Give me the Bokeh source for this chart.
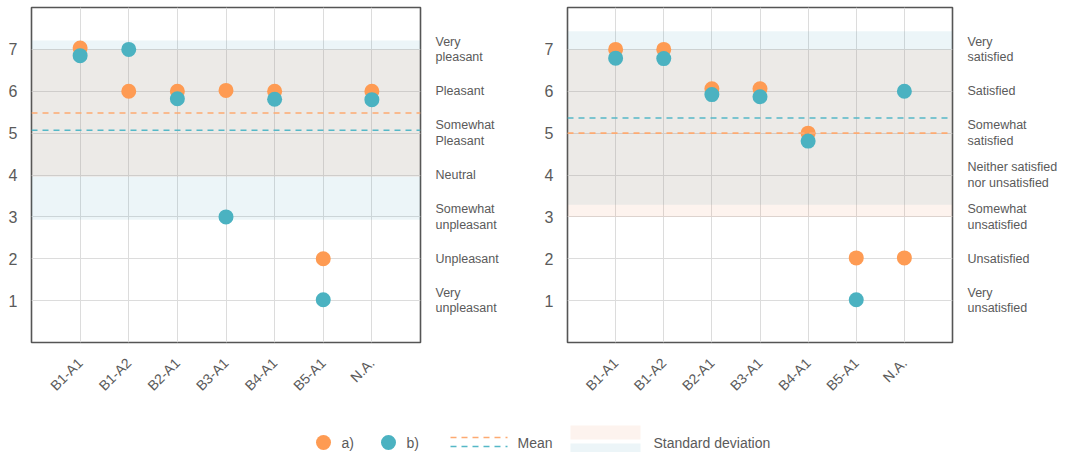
from bokeh.plotting import figure
from bokeh.models import Range1d, FixedTicker, LinearAxis, BoxAnnotation, Span
from bokeh.layouts import column, row
from bokeh.embed import file_html
from bokeh.resources import INLINE
from bokeh.core.properties import value

# ---- data -------------------------------------------------------------
categories = ["B1-A1", "B1-A2", "B2-A1", "B3-A1", "B4-A1", "B5-A1", "N.A."]

pleasant_a = [7.03, 6.0, 6.0, 6.02, 6.0, 2.0, 6.0]
pleasant_b = [6.85, 7.0, 5.82, 3.0, 5.81, 1.02, 5.8]
pleasant_mean_a, pleasant_sd_a = 5.48, 1.52
pleasant_mean_b, pleasant_sd_b = 5.07, 2.14
pleasant_levels = ["Very\nunpleasant", "Unpleasant", "Somewhat\nunpleasant", "Neutral",
                   "Somewhat\nPleasant", "Pleasant", "Very\npleasant"]

satisfied_a = [7.0, 7.0, 6.06, 6.06, 5.0, 2.02, 2.02]
satisfied_b = [6.79, 6.78, 5.92, 5.87, 4.81, 1.02, 6.0]
satisfied_mean_a, satisfied_sd_a = 5.0, 2.0
satisfied_mean_b, satisfied_sd_b = 5.36, 2.07
satisfied_levels = ["Very\nunsatisfied", "Unsatisfied", "Somewhat\nunsatisfied",
                    "Neither satisfied\nnor unsatisfied", "Somewhat\nsatisfied", "Satisfied",
                    "Very\nsatisfied"]

legend_labels = ["a)", "b)", "Mean", "Standard deviation"]

# ---- style ------------------------------------------------------------
FONT = "Liberation Sans"
ORANGE = "#fe9b53"
TEAL = "#4bb2c1"
ORANGE_MEAN = "#fdaa72"
TEAL_MEAN = "#55b8c7"
BAND_ORANGE = "#eb8755"
BAND_TEAL = "#419bb9"
BAND_ALPHA = 0.1
TEXT = "#5a5a5a"
GRID = "#dcdcdc"


def bare(axis):
    axis.axis_line_color = None
    axis.major_tick_line_color = None
    axis.minor_tick_line_color = None
    axis.major_tick_out = 0
    axis.major_tick_in = 0
    axis.minor_tick_out = 0
    axis.minor_tick_in = 0
    axis.major_label_text_font = FONT
    axis.major_label_text_color = TEXT


def panel(vals_a, vals_b, mean_a, sd_a, mean_b, sd_b, levels,
          border_left, frame_w, border_right):
    xs = list(range(1, len(categories) + 1))
    ys = list(range(1, len(levels) + 1))
    p = figure(frame_width=frame_w, frame_height=335,
               x_range=Range1d(0, len(categories) + 1),
               y_range=Range1d(0, len(levels) + 1),
               output_backend="svg", toolbar_location=None,
               min_border_left=border_left, min_border_right=border_right,
               min_border_top=7, min_border_bottom=68)
    p.outline_line_color = "#555555"
    p.outline_line_width = 1.6
    p.background_fill_color = "white"

    # standard deviation bands
    p.add_layout(BoxAnnotation(bottom=mean_b - sd_b, top=mean_b + sd_b,
                               fill_color=BAND_TEAL, fill_alpha=BAND_ALPHA,
                               line_color=None, level="underlay"))
    p.add_layout(BoxAnnotation(bottom=mean_a - sd_a, top=mean_a + sd_a,
                               fill_color=BAND_ORANGE, fill_alpha=BAND_ALPHA,
                               line_color=None, level="underlay"))

    # grid
    p.xgrid.ticker = FixedTicker(ticks=xs)
    p.ygrid.ticker = FixedTicker(ticks=ys)
    p.grid.grid_line_color = GRID
    p.grid.grid_line_width = 1

    # means
    p.add_layout(Span(location=mean_a, dimension="width", line_color=ORANGE_MEAN,
                      line_width=1.6, line_dash="6 5"))
    p.add_layout(Span(location=mean_b, dimension="width", line_color=TEAL_MEAN,
                      line_width=1.6, line_dash="6 5"))

    # points
    p.scatter(xs, vals_a, size=15, color=ORANGE, line_color=None)
    p.scatter(xs, vals_b, size=15, color=TEAL, line_color=None)

    # x axis
    xa = p.xaxis[0]
    bare(xa)
    xa.ticker = FixedTicker(ticks=xs)
    xa.major_label_overrides = {x: c for x, c in zip(xs, categories)}
    xa.major_label_orientation = 0.785398
    xa.major_label_text_font_size = "14px"
    xa.major_label_standoff = 18

    # left numeric axis
    ya = p.yaxis[0]
    bare(ya)
    ya.ticker = FixedTicker(ticks=ys)
    ya.major_label_text_font_size = "16px"
    ya.major_label_standoff = 14

    # right descriptive axis
    ra = LinearAxis(ticker=FixedTicker(ticks=ys),
                    major_label_overrides={y: t for y, t in zip(ys, levels)})
    bare(ra)
    ra.major_label_text_font_size = "12.5px"
    ra.major_label_text_line_height = 1.1
    ra.major_label_standoff = 15
    p.add_layout(ra, "right")
    return p


p1 = panel(pleasant_a, pleasant_b, pleasant_mean_a, pleasant_sd_a,
           pleasant_mean_b, pleasant_sd_b, pleasant_levels, 31, 389, 120)
p2 = panel(satisfied_a, satisfied_b, satisfied_mean_a, satisfied_sd_a,
           satisfied_mean_b, satisfied_sd_b, satisfied_levels, 27, 385, 132)

# ---- legend strip (pixel-like coordinates, y downward) ------------------
leg = figure(frame_width=1084, frame_height=42, x_range=Range1d(0, 1084),
             y_range=Range1d(42, 0), output_backend="svg", toolbar_location=None,
             min_border=0, x_axis_type=None, y_axis_type=None)
leg.outline_line_color = None
leg.grid.visible = False
leg.scatter([323], [32], size=15, color=ORANGE, line_color=None)
leg.scatter([388], [32], size=15, color=TEAL, line_color=None)
leg.segment(x0=[450], y0=[27], x1=[507], y1=[27], line_color=ORANGE_MEAN,
            line_width=1.6, line_dash="6 5")
leg.segment(x0=[450], y0=[36], x1=[507], y1=[36], line_color=TEAL_MEAN,
            line_width=1.6, line_dash="6 5")
leg.quad(left=[570], right=[640], top=[15], bottom=[29], fill_color=BAND_ORANGE,
         fill_alpha=BAND_ALPHA, line_color=None)
leg.quad(left=[570], right=[640], top=[33], bottom=[47], fill_color=BAND_TEAL,
         fill_alpha=BAND_ALPHA, line_color=None)
leg.text(x=[341, 406, 517, 653], y=[32, 32, 32, 32], text=legend_labels,
         text_font=value(FONT), text_font_size="14px", text_color=TEXT,
         text_baseline="middle", text_align="left")

layout = column(row(p1, p2, spacing=0), leg, spacing=0)

open("out.html", "w").write(file_html(layout, INLINE))
